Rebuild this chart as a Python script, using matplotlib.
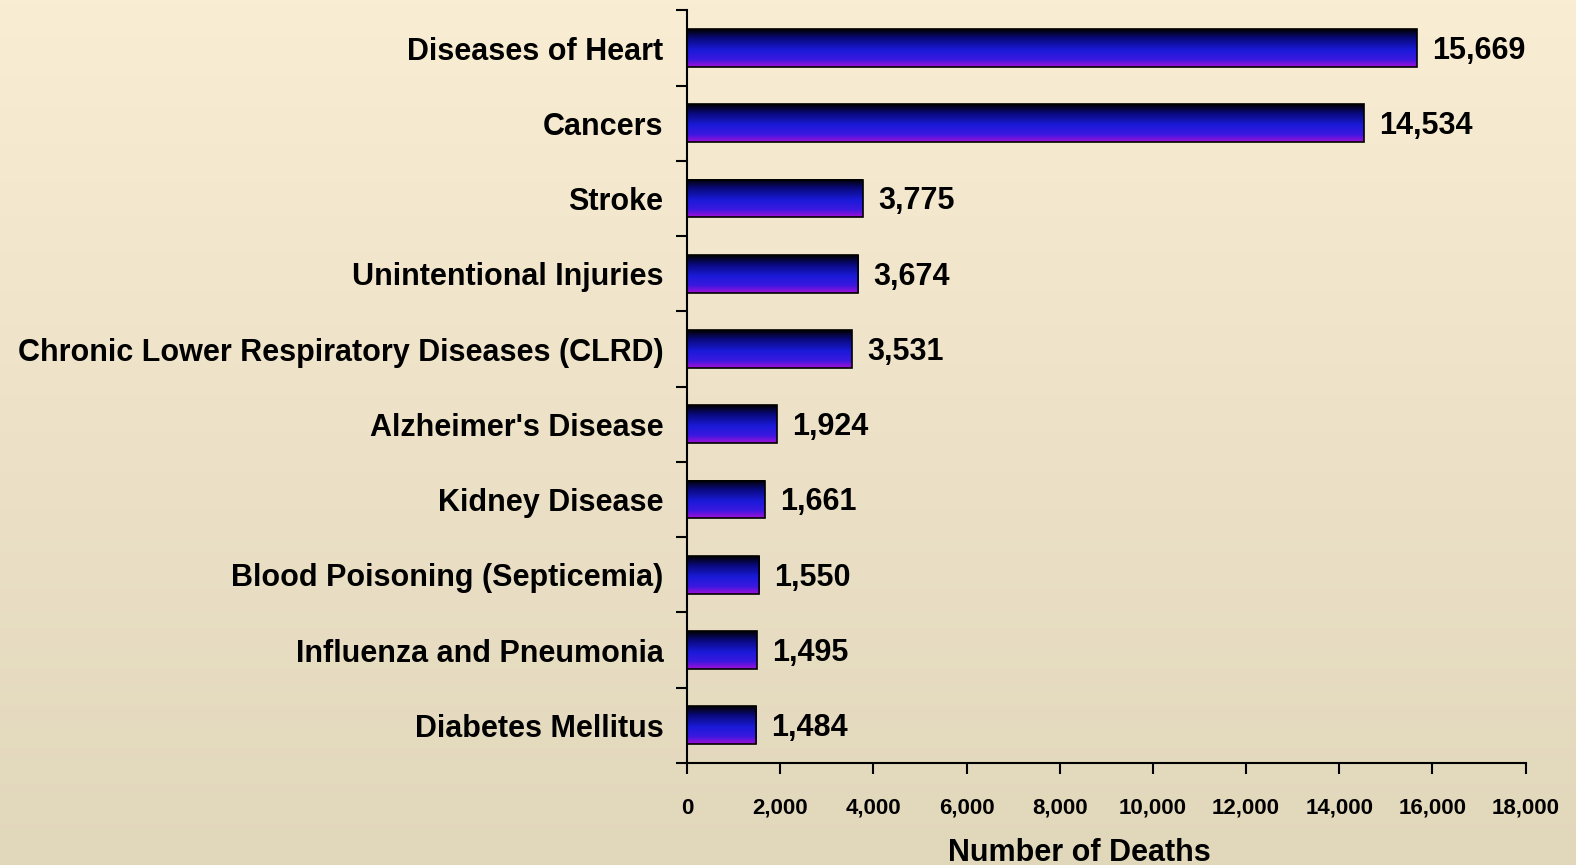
import numpy as np
import matplotlib
matplotlib.use("Agg")
import matplotlib.pyplot as plt
from matplotlib.colors import LinearSegmentedColormap
from matplotlib.ticker import FuncFormatter, FixedLocator

# data
causes = ["Diseases of Heart", "Cancers", "Stroke", "Unintentional Injuries",
          "Chronic Lower Respiratory Diseases (CLRD)", "Alzheimer's Disease",
          "Kidney Disease", "Blood Poisoning (Septicemia)",
          "Influenza and Pneumonia", "Diabetes Mellitus"]
deaths = [15669, 14534, 3775, 3674, 3531, 1924, 1661, 1550, 1495, 1484]
x_ticks = [0, 2000, 4000, 6000, 8000, 10000, 12000, 14000, 16000, 18000]

plt.rcParams['font.family'] = ['Liberation Sans', 'DejaVu Sans']
plt.rcParams['font.weight'] = 'bold'

fig = plt.figure(figsize=(15.76, 8.65), dpi=100)

# background gradient
bg = fig.add_axes([0, 0, 1, 1], zorder=-1)
bg_cmap = LinearSegmentedColormap.from_list("bg", ["#f9edd4", "#e1d7bb"])
bg.imshow(np.linspace(0, 1, 256).reshape(-1, 1), cmap=bg_cmap, aspect='auto',
          extent=[0, 1, 1, 0])
bg.set_axis_off()

ax = fig.add_axes([0.436, 0.118, 0.532, 0.870])
ax.set_facecolor('none')

bar_cmap = LinearSegmentedColormap.from_list(
    "bar", [(0, "#000000"), (0.25, "#0a0a80"), (0.55, "#1a1ad8"),
            (0.8, "#3a18e0"), (1.0, "#a010d8")])
grad = np.linspace(0, 1, 128).reshape(-1, 1)

h = 0.5
n = len(causes)
ypos = np.arange(n)
for y, v in zip(ypos, deaths):
    ax.imshow(grad, cmap=bar_cmap, aspect='auto', interpolation='bilinear',
              extent=[0, v, y + h / 2, y - h / 2], zorder=2)
    ax.annotate(f"{v:,}", xy=(v, y), xytext=(11, -2), textcoords='offset points',
                va='center', ha='left', fontsize=22, fontweight='bold')
ax.barh(ypos, deaths, height=h, facecolor='none', edgecolor='black',
        linewidth=1.2, zorder=3)

ax.set_xlim(0, 18000)
ax.set_ylim(n - 0.5, -0.5)

ax.set_yticks(ypos)
ax.set_yticklabels(causes, fontsize=22, fontweight='bold')
ax.tick_params(axis='y', which='major', length=0, pad=17)
ax.yaxis.set_minor_locator(FixedLocator(np.arange(-0.5, n, 1.0)))
ax.tick_params(axis='y', which='minor', length=8, width=1.5, direction='out')

ax.set_xticks(x_ticks)
ax.xaxis.set_major_formatter(FuncFormatter(lambda v, p: f"{int(v):,}"))
ax.tick_params(axis='x', length=8, width=1.5, direction='out', pad=17,
               labelsize=16)
for lbl in ax.get_xticklabels():
    lbl.set_fontweight('bold')
ax.set_xlabel("Number of Deaths", fontsize=22, fontweight='bold')
ax.xaxis.set_label_coords(0.468, -0.1)

for s in ['top', 'right']:
    ax.spines[s].set_visible(False)
for s in ['left', 'bottom']:
    ax.spines[s].set_linewidth(1.5)

fig.savefig("out.png", dpi=100)
